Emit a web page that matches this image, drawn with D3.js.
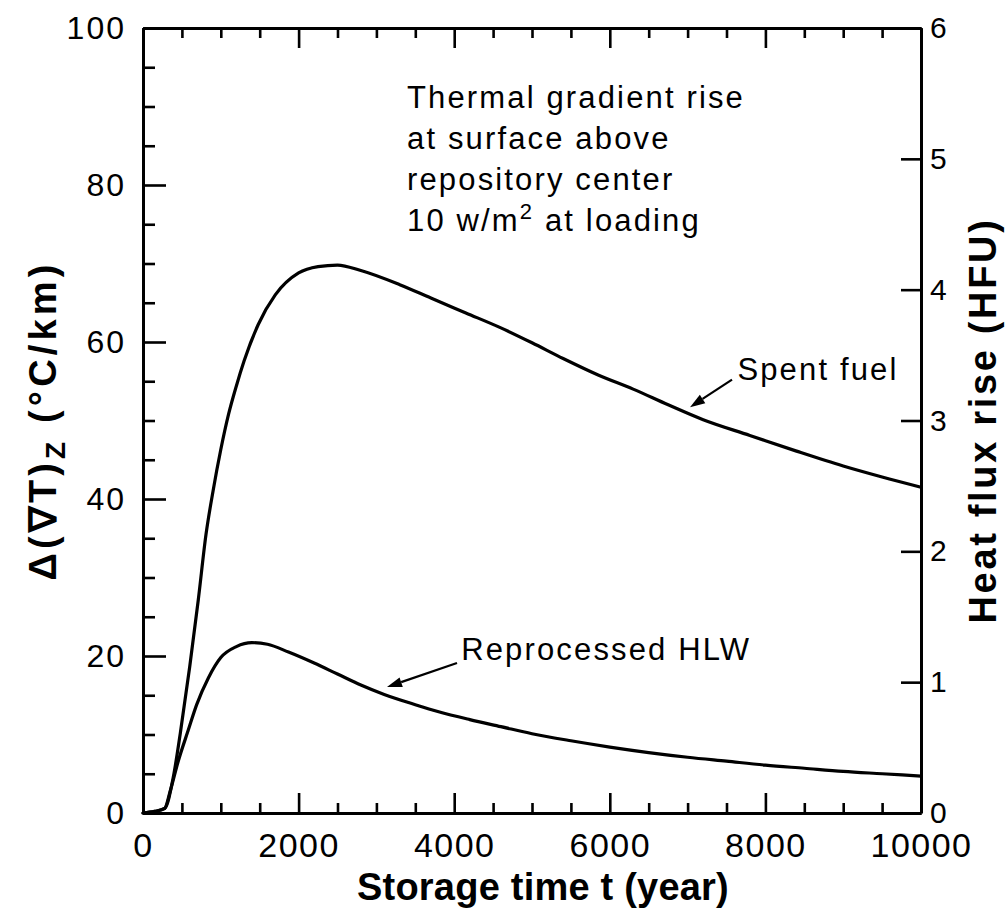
<!DOCTYPE html>
<html>
<head>
<meta charset="utf-8">
<script src="https://cdn.jsdelivr.net/npm/d3@7"></script>
<style>
  html, body { margin: 0; padding: 0; background: #fff; }
  svg { display: block; }
</style>
</head>
<body>
<svg id="chart" width="1005" height="912"></svg>
<script>
// Storage time (years) and thermal gradient rise (°C/km) for spent fuel
const spentYears = [0, 150, 280, 390, 480, 600, 710, 810, 900, 1000, 1100, 1200, 1300, 1480, 1700, 2000, 2250, 2500, 2800, 3300, 3700, 4150, 4600, 5000, 5400, 5850, 6300, 6750, 7200, 7800, 8400, 9000, 9500, 10000];
const spentFuel = [0, 0.2, 0.6, 4.6, 10.2, 18.6, 27.1, 35.5, 41, 46.3, 50.8, 54.4, 57.6, 62.2, 66.0, 68.8, 69.6, 69.8, 69.1, 67.3, 65.6, 63.7, 61.8, 59.9, 57.9, 55.8, 54.0, 52.0, 50.1, 48.1, 46.1, 44.2, 42.8, 41.5];

// Same quantity for reprocessed high-level waste
const hlwYears = [0, 150, 280, 350, 450, 580, 690, 840, 1000, 1200, 1400, 1600, 1870, 2200, 2500, 2800, 3100, 3500, 3800, 4200, 4600, 5000, 5500, 6000, 6500, 7000, 7500, 8000, 8500, 9000, 9500, 10000];
const hlwValues = [0, 0.2, 0.6, 2.8, 6.5, 10.5, 13.8, 17.2, 19.8, 21.2, 21.7, 21.5, 20.5, 19.1, 17.7, 16.3, 15.1, 13.8, 12.9, 11.9, 11.0, 10.1, 9.2, 8.4, 7.7, 7.1, 6.6, 6.1, 5.7, 5.3, 5.0, 4.7];

// Tick values
const xMajorTicks = [0, 2000, 4000, 6000, 8000, 10000];
const xMinorTicks = d3.range(0, 10001, 500).filter(d => d % 2000 !== 0);
const yMajorTicks = [0, 20, 40, 60, 80, 100];
const yMinorTicks = d3.range(0, 101, 5).filter(d => d % 20 !== 0);
const hfuTicks = [0, 1, 2, 3, 4, 5, 6];

// Text
const noteLines = ["Thermal gradient rise", "at surface above", "repository center"];
const seriesLabels = ["Spent fuel", "Reprocessed HLW"];

const FONT = "'Liberation Sans', Arial, sans-serif";
const svg = d3.select("#chart");

const plot = { left: 143, right: 921, top: 28, bottom: 813 };
const x = d3.scaleLinear().domain([0, 10000]).range([plot.left, plot.right]);
const y = d3.scaleLinear().domain([0, 100]).range([plot.bottom, plot.top]);
const yHfu = d3.scaleLinear().domain([0, 6]).range([plot.bottom, plot.top]);

function styleAxis(g, fontSize, spacing) {
  g.select(".domain").attr("stroke", "#000").attr("stroke-width", 3);
  g.selectAll(".tick line").attr("stroke", "#000").attr("stroke-width", 2.6);
  g.selectAll(".tick text")
    .attr("fill", "#000")
    .attr("font-family", FONT)
    .attr("font-size", fontSize)
    .attr("letter-spacing", spacing);
}

// Bottom axis
svg.append("g").attr("transform", `translate(0,${plot.bottom})`)
  .call(d3.axisBottom(x).tickValues(xMinorTicks).tickSize(-10).tickSizeOuter(0).tickFormat(""))
  .call(g => styleAxis(g, 34, 0));
svg.append("g").attr("transform", `translate(0,${plot.bottom})`)
  .call(d3.axisBottom(x).tickValues(xMajorTicks).tickSize(-20).tickSizeOuter(0).tickPadding(20).tickFormat(d3.format("d")))
  .call(g => styleAxis(g, 34, 1.5));

// Top axis
svg.append("g").attr("transform", `translate(0,${plot.top})`)
  .call(d3.axisTop(x).tickValues(xMinorTicks).tickSize(-10).tickSizeOuter(0).tickFormat(""))
  .call(g => styleAxis(g, 34, 0));
svg.append("g").attr("transform", `translate(0,${plot.top})`)
  .call(d3.axisTop(x).tickValues(xMajorTicks).tickSize(-20).tickSizeOuter(0).tickFormat(""))
  .call(g => styleAxis(g, 34, 0));

// Left axis (°C/km)
svg.append("g").attr("transform", `translate(${plot.left},0)`)
  .call(d3.axisLeft(y).tickValues(yMinorTicks).tickSize(-12).tickSizeOuter(0).tickFormat(""))
  .call(g => styleAxis(g, 32, 0));
svg.append("g").attr("transform", `translate(${plot.left},0)`)
  .call(d3.axisLeft(y).tickValues(yMajorTicks).tickSize(-23).tickSizeOuter(0).tickPadding(17).tickFormat(d3.format("d")))
  .call(g => styleAxis(g, 32, 2));

// Right axis (HFU)
svg.append("g").attr("transform", `translate(${plot.right},0)`)
  .call(d3.axisRight(yHfu).tickValues(hfuTicks).tickSize(-20).tickSizeOuter(0).tickPadding(9).tickFormat(d3.format("d")))
  .call(g => styleAxis(g, 30, 0));

// Curves
const line = d3.line().x(d => x(d[0])).y(d => y(d[1])).curve(d3.curveMonotoneX);
const curveStyle = p => p.attr("fill", "none").attr("stroke", "#000").attr("stroke-width", 3.2)
  .attr("stroke-linejoin", "round").attr("stroke-linecap", "round");

svg.append("path").datum(d3.zip(spentYears, spentFuel)).attr("d", line).call(curveStyle);
svg.append("path").datum(d3.zip(hlwYears, hlwValues)).attr("d", line).call(curveStyle);

// Axis titles
function fitWidth(sel, target) {
  const w = sel.node().getBBox().width;
  const n = sel.node().getNumberOfChars();
  sel.attr("letter-spacing", (target - w) / n);
}

const xTitle = svg.append("text")
  .attr("x", 357).attr("y", 900)
  .attr("font-family", FONT).attr("font-weight", "bold").attr("font-size", 38)
  .text("Storage time t (year)");
fitWidth(xTitle, 372);

const yTitle = svg.append("text")
  .attr("transform", `translate(56,${(plot.top + plot.bottom) / 2}) rotate(-90)`)
  .attr("text-anchor", "middle")
  .attr("font-family", FONT).attr("font-weight", "bold").attr("font-size", 38);
yTitle.append("tspan").text("\u0394(\u2207T)");
yTitle.append("tspan").attr("dy", 9).attr("font-size", 28).text("Z");
yTitle.append("tspan").attr("dy", -9).text(" (\u00B0C/km)");
fitWidth(yTitle, 320);

const rTitle = svg.append("text")
  .attr("transform", `translate(996,${(plot.top + plot.bottom) / 2}) rotate(-90)`)
  .attr("text-anchor", "middle")
  .attr("font-family", FONT).attr("font-weight", "bold").attr("font-size", 38)
  .text("Heat flux rise (HFU)");
fitWidth(rTitle, 406);

// Note block
const noteFont = 31;
const note = svg.append("g").attr("font-family", FONT).attr("font-size", noteFont);
const first = note.append("text").attr("x", 407).attr("y", 108).text(noteLines[0]);
fitWidth(first, 338);
const noteSpacing = +first.attr("letter-spacing");
noteLines.slice(1).forEach((t, i) => {
  note.append("text").attr("x", 407).attr("y", 108 + 41 * (i + 1))
    .attr("letter-spacing", noteSpacing).text(t);
});
const last = note.append("text").attr("x", 407).attr("y", 108 + 41 * 3)
  .attr("letter-spacing", noteSpacing);
last.append("tspan").text("10 w/m");
last.append("tspan").attr("dy", -12).attr("font-size", 22).text("2");
last.append("tspan").attr("dy", 12).text(" at loading");

// Series labels with arrows (positions in data units)
const labels = [
  { text: seriesLabels[0], at: [7640, 55.2], tail: [7571, 55.2], tip: [7031, 51.7] },
  { text: seriesLabels[1], at: [4090, 19.5], tail: [4036, 19.1], tip: [3136, 16.05] }
];
labels.forEach(l => {
  svg.append("text")
    .attr("x", x(l.at[0])).attr("y", y(l.at[1]))
    .attr("font-family", FONT).attr("font-size", noteFont)
    .attr("letter-spacing", noteSpacing)
    .text(l.text);
  const x0 = x(l.tail[0]), y0 = y(l.tail[1]), x1 = x(l.tip[0]), y1 = y(l.tip[1]);
  const ang = Math.atan2(y1 - y0, x1 - x0);
  const len = 15, half = 5;
  const bx = x1 - len * Math.cos(ang), by = y1 - len * Math.sin(ang);
  svg.append("line").attr("x1", x0).attr("y1", y0).attr("x2", bx).attr("y2", by)
    .attr("stroke", "#000").attr("stroke-width", 2.2);
  const px = -Math.sin(ang) * half, py = Math.cos(ang) * half;
  svg.append("path")
    .attr("d", `M${x1},${y1}L${bx + px},${by + py}L${bx - px},${by - py}Z`)
    .attr("fill", "#000");
});
</script>
</body>
</html>
